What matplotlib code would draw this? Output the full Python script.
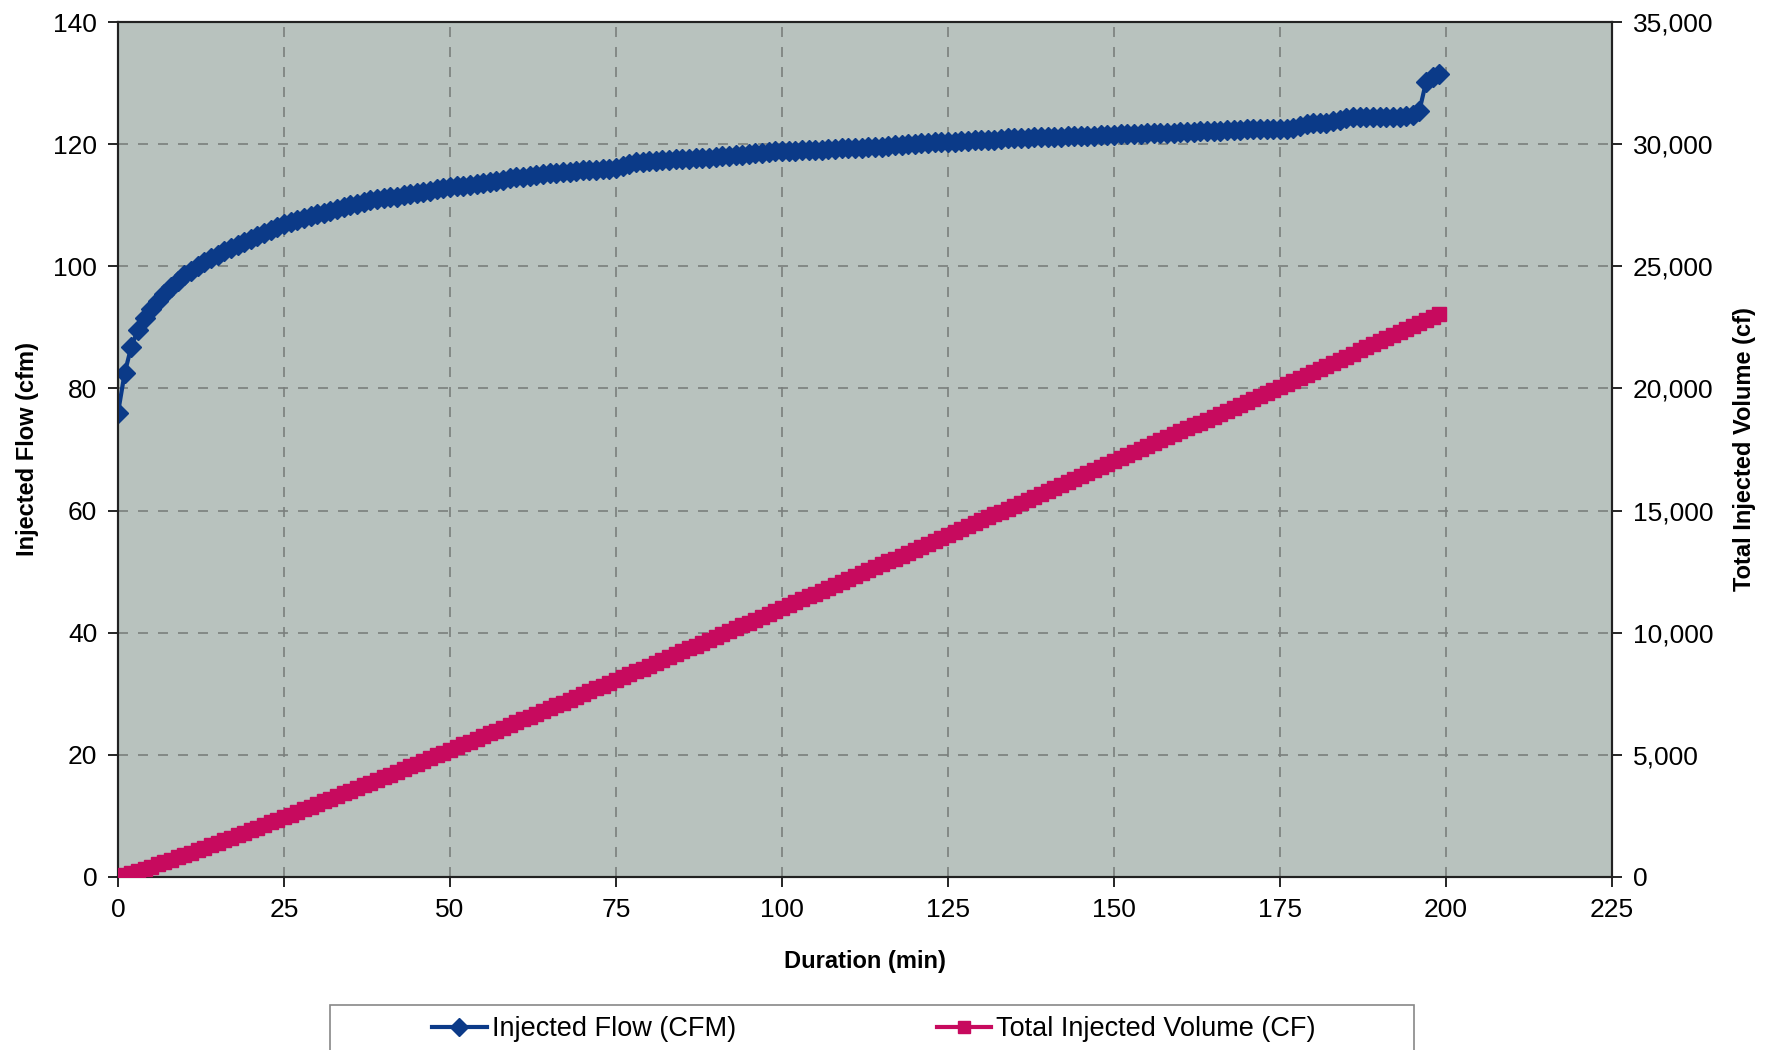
import numpy as np
import matplotlib
matplotlib.use('Agg')
import matplotlib.pyplot as plt
from matplotlib.patches import Rectangle
from matplotlib.ticker import FuncFormatter

plt.rcParams['font.family'] = ['Liberation Sans', 'DejaVu Sans']

# Duration in minutes, one reading per minute
duration = list(range(200))

# Injected flow (cfm)
flow = [
    76.0, 82.5, 86.8, 89.6, 91.5, 93.0, 94.3, 95.5, 96.6, 97.6,
    98.5, 99.3, 100.0, 100.7, 101.3, 101.9, 102.5, 103.0, 103.5, 104.0,
    104.5, 105.0, 105.5, 106.0, 106.5, 107.0, 107.3, 107.6, 107.9, 108.2,
    108.5, 108.8, 109.1, 109.4, 109.7, 110.0, 110.2, 110.5, 110.8, 111.0,
    111.2, 111.3, 111.4, 111.6, 111.8, 112.0, 112.2, 112.4, 112.6, 112.8,
    113.0, 113.1, 113.2, 113.3, 113.4, 113.6, 113.8, 114.0, 114.2, 114.4,
    114.6, 114.7, 114.8, 115.0, 115.1, 115.2, 115.3, 115.4, 115.5, 115.6,
    115.7, 115.8, 115.8, 115.9, 116.0, 116.1, 116.4, 116.8, 117.0, 117.1,
    117.2, 117.3, 117.4, 117.4, 117.5, 117.6, 117.6, 117.7, 117.8, 117.8,
    117.9, 118.0, 118.1, 118.2, 118.3, 118.4, 118.5, 118.6, 118.7, 118.8,
    118.9, 118.9, 118.9, 119.0, 119.0, 119.1, 119.1, 119.2, 119.2, 119.3,
    119.3, 119.4, 119.4, 119.5, 119.5, 119.6, 119.7, 119.8, 119.9, 120.0,
    120.1, 120.2, 120.2, 120.3, 120.3, 120.4, 120.4, 120.5, 120.5, 120.6,
    120.6, 120.7, 120.7, 120.8, 121.0, 121.0, 121.0, 121.0, 121.1, 121.1,
    121.1, 121.2, 121.2, 121.3, 121.3, 121.3, 121.4, 121.4, 121.5, 121.5,
    121.5, 121.6, 121.6, 121.7, 121.7, 121.8, 121.8, 121.8, 121.9, 121.9,
    122.0, 122.0, 122.0, 122.1, 122.1, 122.2, 122.2, 122.3, 122.3, 122.3,
    122.4, 122.4, 122.4, 122.4, 122.5, 122.5, 122.5, 122.6, 123.0, 123.3,
    123.4, 123.4, 123.5, 123.8, 124.0, 124.2, 124.4, 124.5, 124.5, 124.5,
    124.5, 124.5, 124.5, 124.5, 124.6, 124.7, 125.5, 130.2, 131.0, 131.5,
]

# Total injected volume (cf): running total of the flow, one minute per reading
volume = np.concatenate([[0.0], np.cumsum(flow[:-1])])

x_ticks = [0, 25, 50, 75, 100, 125, 150, 175, 200, 225]
left_ticks = [0, 20, 40, 60, 80, 100, 120, 140]
right_ticks = [0, 5000, 10000, 15000, 20000, 25000, 30000, 35000]

blue = '#0b3a88'
pink = '#c70a5e'
bg = '#b8c2be'

fig = plt.figure(figsize=(17.69, 10.5), dpi=100)
ax = fig.add_axes([118 / 1769, 1 - 877 / 1050, (1612 - 118) / 1769, (877 - 22) / 1050])
ax.set_facecolor(bg)
ax2 = ax.twinx()

l1, = ax.plot(duration, flow, color=blue, marker='D', markersize=10, linewidth=3,
              markeredgecolor=blue, label='Injected Flow (CFM)', zorder=3)
l2, = ax2.plot(duration, volume, color=pink, marker='s', markersize=10, linewidth=3,
               markeredgecolor=pink, label='Total Injected Volume (CF)', zorder=3)

ax.set_xlim(0, 225)
ax.set_ylim(0, 140)
ax2.set_ylim(0, 35000)
ax.set_xticks(x_ticks)
ax.set_yticks(left_ticks)
ax2.set_yticks(right_ticks)
ax2.yaxis.set_major_formatter(FuncFormatter(lambda v, p: f'{int(v):,}'))

ax.grid(True, color='#7a7f7d', linestyle=(0, (6, 6)), linewidth=1.2)
ax.set_axisbelow(True)

for a in (ax, ax2):
    a.tick_params(direction='out', length=7, width=1.2, labelsize=19, pad=8)
    for s in a.spines.values():
        s.set_linewidth(1.5)
        s.set_color('#222222')

ax.set_xlabel('Duration (min)', fontsize=17, fontweight='bold', labelpad=20)
ax.set_ylabel('Injected Flow (cfm)', fontsize=17, fontweight='bold', labelpad=10)
ax2.set_ylabel('Total Injected Volume (cf)', fontsize=17, fontweight='bold', labelpad=14)

# legend frame runs past the bottom edge of the figure
fig.patches.append(Rectangle((330 / 1769, -0.05), (1414 - 330) / 1769, 0.05 + 45 / 1050,
                             transform=fig.transFigure, facecolor='white',
                             edgecolor='#888888', linewidth=1.2))
fig.legend(handles=[l1, l2], loc='center', ncol=2,
           bbox_to_anchor=(874 / 1769, 1 - 1029 / 1050),
           fontsize=19.5, frameon=False, handlelength=2.0, handletextpad=0.2,
           columnspacing=7.4, borderaxespad=0, markerscale=0.9)

fig.savefig('out.png', dpi=100)
